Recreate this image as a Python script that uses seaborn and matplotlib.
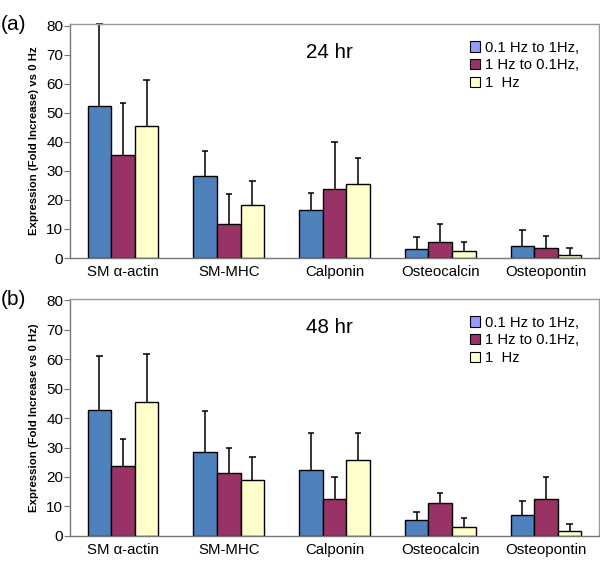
import pandas as pd
import seaborn as sns
import matplotlib.pyplot as plt
import numpy as np
from matplotlib.patches import Patch

# gene categories and stimulus groups
genes = ["SM \u03b1-actin", "SM-MHC", "Calponin", "Osteocalcin", "Osteopontin"]
groups = ["0.1 Hz to 1Hz,", "1 Hz to 0.1Hz,", "1  Hz"]

# 24 hr means and error-bar tops
mean_24 = {
    "0.1 Hz to 1Hz,": [52.2, 28.3, 16.6, 3.1, 4.2],
    "1 Hz to 0.1Hz,": [35.3, 11.8, 23.9, 5.5, 3.3],
    "1  Hz": [45.3, 18.3, 25.6, 2.5, 0.9],
}
top_24 = {
    "0.1 Hz to 1Hz,": [80.4, 36.7, 22.3, 7.3, 9.8],
    "1 Hz to 0.1Hz,": [53.3, 22.0, 40.0, 11.8, 7.7],
    "1  Hz": [61.4, 26.4, 34.5, 5.5, 3.3],
}

# 48 hr
mean_48 = {
    "0.1 Hz to 1Hz,": [42.8, 28.4, 22.4, 5.2, 6.9],
    "1 Hz to 0.1Hz,": [23.7, 21.5, 12.4, 11.0, 12.6],
    "1  Hz": [45.6, 19.0, 25.9, 2.9, 1.7],
}
top_48 = {
    "0.1 Hz to 1Hz,": [61.1, 42.3, 34.9, 8.2, 11.7],
    "1 Hz to 0.1Hz,": [33.0, 29.7, 20.1, 14.6, 20.1],
    "1  Hz": [61.7, 26.8, 34.9, 5.9, 3.9],
}

bar_colors = ["#4f81bd", "#993366", "#ffffcc"]
legend_colors = ["#9999ff", "#993366", "#ffffcc"]

plt.rcParams['font.family'] = ['Liberation Sans', 'DejaVu Sans']

fig = plt.figure(figsize=(6, 5.61), dpi=100)
ax_a = fig.add_axes([0.117, 0.540, 0.881, 0.417])
ax_b = fig.add_axes([0.117, 0.045, 0.881, 0.422])


def draw_panel(ax, means, tops, title, ylab, letter):
    rows = []
    for g in groups:
        for gene, m, t in zip(genes, means[g], tops[g]):
            rows.append({"gene": gene, "group": g, "mean": m, "top": t})
    df = pd.DataFrame(rows)

    sns.barplot(data=df, x="gene", y="mean", hue="group", order=genes,
                hue_order=groups, palette=bar_colors, saturation=1,
                errorbar=None, edgecolor="black", linewidth=1.0, width=0.67,
                ax=ax, legend=False)

    # error bars only going up, cap only at the top
    for cont, g in zip(ax.containers, groups):
        xs = np.array([p.get_x() + p.get_width() / 2 for p in cont])
        m = np.array(means[g])
        t = np.array(tops[g])
        ax.vlines(xs, m, t, color="black", linewidth=1.1, clip_on=False)
        ax.hlines(t, xs - 0.03, xs + 0.03, color="black", linewidth=1.1,
                  clip_on=False)

    ax.set_ylim(0, 80.5)
    ax.set_xlim(-0.5, 4.5)
    ax.set_yticks(range(0, 81, 10))
    ax.tick_params(axis="y", labelsize=11, length=4, color="#777777", pad=1)
    ax.tick_params(axis="x", labelsize=10.8, length=0, pad=5)
    ax.set_xlabel("")
    ax.set_ylabel(ylab, fontsize=8.2, fontweight="bold", labelpad=5)
    for side in ["top", "right"]:
        ax.spines[side].set_color("#999999")
        ax.spines[side].set_linewidth(1.0)
    for side in ["left", "bottom"]:
        ax.spines[side].set_color("#777777")
        ax.spines[side].set_linewidth(1.0)

    ax.text(0.447, 0.855, title, transform=ax.transAxes, fontsize=14.8)
    ax.text(-0.132, 1.0, letter, transform=ax.transAxes, fontsize=15,
            va="center", ha="left")

    handles = [Patch(facecolor=c, edgecolor="black", linewidth=0.8, label=g)
               for c, g in zip(legend_colors, groups)]
    ax.legend(handles=handles, loc="upper left", bbox_to_anchor=(0.745, 0.955),
              frameon=False, fontsize=10.6, handlelength=0.7, handleheight=0.7,
              handletextpad=0.3, labelspacing=0.25, borderaxespad=0)


draw_panel(ax_a, mean_24, top_24, "24 hr",
           "Expression (Fold Increase) vs 0 Hz", "(a)")
draw_panel(ax_b, mean_48, top_48, "48 hr",
           "Expression (Fold Increase vs 0 Hz)", "(b)")

fig.savefig("out.png", dpi=100)
